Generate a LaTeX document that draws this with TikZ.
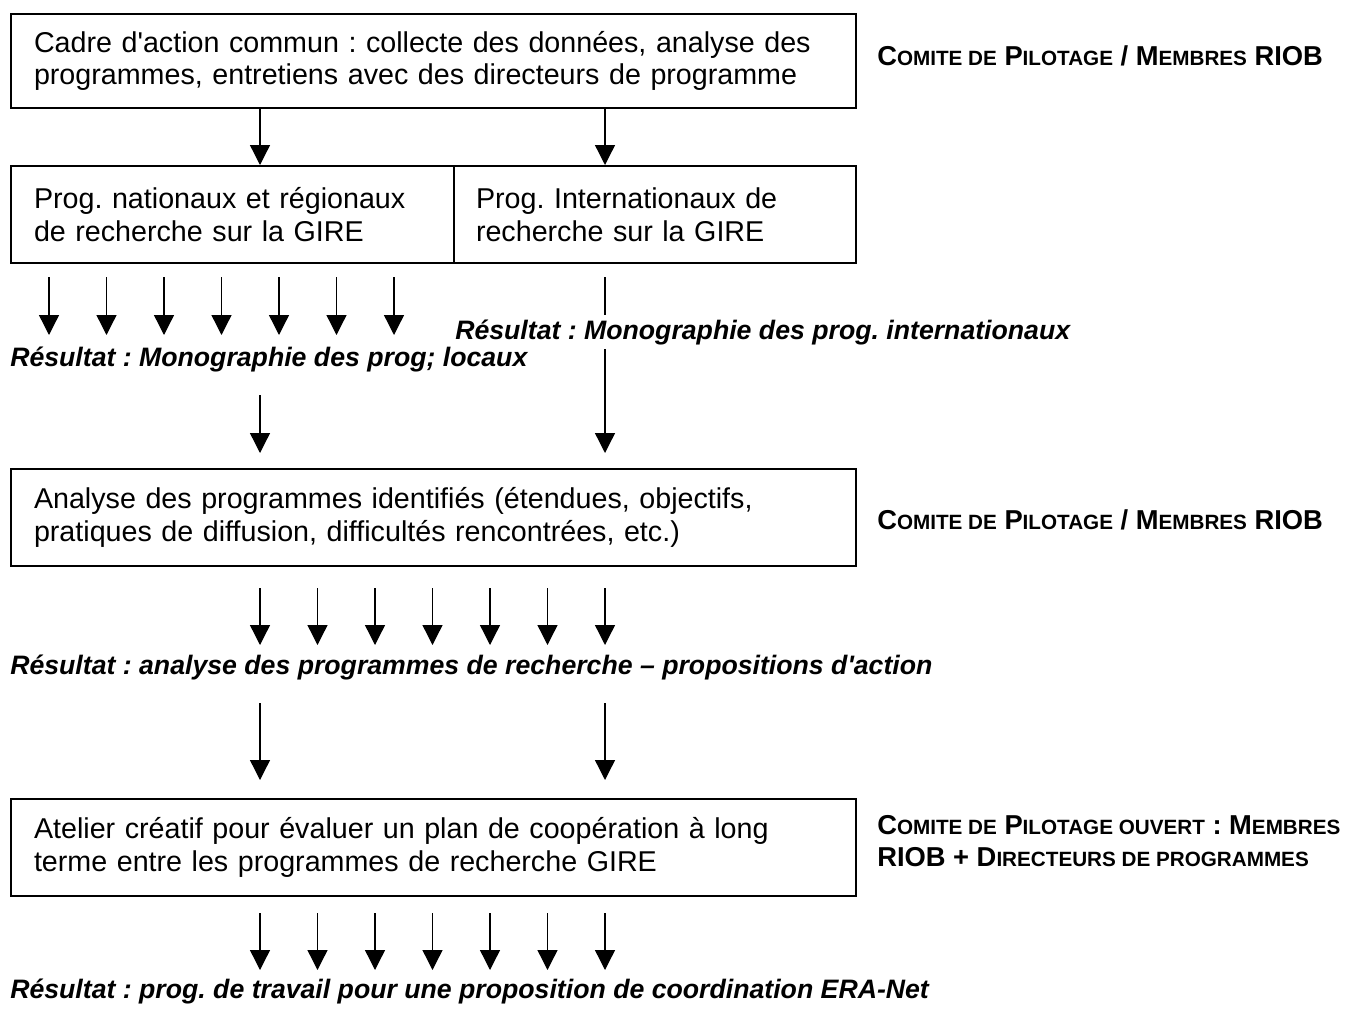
\documentclass[tikz,border=0pt]{standalone}
\usepackage{fontspec}
\setmainfont{Liberation Sans}[Ligatures=TeXOff]
\usetikzlibrary{arrows.meta}
\newcommand{\mainsz}{\fontsize{21.5}{24.5}\selectfont\frenchspacing\hyphenpenalty=10000\relax}
\newcommand{\scx}[1]{{\fontsize{15.5}{15.5}\selectfont #1}}
\begin{document}
\begin{tikzpicture}[x=0.75pt,y=-0.75pt,
  box/.style={draw, line width=1.5pt, anchor=north west, align=left, inner ysep=0pt, font=\mainsz},
  arr/.style={line width=1pt, -{Triangle[length=15pt,width=15pt]}},
  res/.style={anchor=base west, inner sep=0pt, font=\fontsize{20}{24}\selectfont\frenchspacing\bfseries\itshape},
  lab/.style={anchor=base west, inner sep=0pt, align=left, font=\fontsize{20.5}{24}\selectfont\frenchspacing\bfseries}]
\useasboundingbox[fill=white] (0,0) rectangle (1363,1010);

% boxes
\node[box, inner xsep=17.25pt, text width=599.25pt, minimum height=70.5pt] (b1) at (10,13)
  {Cadre d'action commun : collecte des données, analyse des programmes, entretiens avec des directeurs de programme};
\node[box, inner xsep=17.25pt, text width=297.75pt, minimum height=72.75pt] (b2a) at (10,165)
  {Prog. nationaux et régionaux de recherche sur la GIRE};
\node[box, inner xsep=16.5pt, text width=268.5pt, minimum height=72.75pt] (b2b) at (453,165)
  {Prog. Internationaux de recherche sur la GIRE};
\node[box, inner xsep=17.25pt, text width=599.25pt, minimum height=72.75pt] (b3) at (10,468)
  {Analyse des programmes identifiés (étendues, objectifs, pratiques de diffusion, difficultés rencontrées, etc.)};
\node[box, inner xsep=17.25pt, text width=599.25pt, minimum height=72.75pt] (b4) at (10,798)
  {Atelier créatif pour évaluer un plan de coopération à long terme entre les programmes de recherche GIRE};

% side labels
\node[lab] (l1) at (877,65) {C\scx{OMITE DE} P\scx{ILOTAGE} / M\scx{EMBRES} RIOB};
\node[lab] (l3) at (877,529) {C\scx{OMITE DE} P\scx{ILOTAGE} / M\scx{EMBRES} RIOB};
\node[lab] (l4) at (877,866) {C\scx{OMITE DE} P\scx{ILOTAGE OUVERT} : M\scx{EMBRES}\\RIOB + D\scx{IRECTEURS DE PROGRAMMES}};

% result texts
\node[res] (r1) at (10,366) {Résultat : Monographie des prog; locaux};
\node[res] (r3) at (10,674) {Résultat : analyse des programmes de recherche – propositions d'action};
\node[res] (r4) at (10,998) {Résultat : prog. de travail pour une proposition de coordination ERA-Net};

% column coordinates
\coordinate (cL) at (260,0);
\coordinate (cR) at (605,0);

% box1 -> box2
\draw[arr] (b1.south -| cL) -- (b2a.north -| cL);
\draw[arr] (b1.south -| cR) -- (b2b.north -| cR);

% row of arrows under box 2
\foreach \i in {0,...,6} {
  \coordinate (p1s\i) at (49+57.5*\i,277);
  \coordinate (p1e\i) at (49+57.5*\i,335);
  \draw[arr] (p1s\i) -- (p1e\i);
}
\coordinate (qLs) at (260,395);
\coordinate (qLe) at (260,453);
\coordinate (qRs) at (605,277);
\coordinate (qRe) at (605,453);
\draw[arr] (qLs) -- (qLe);
\draw[arr] (qRs) -- (qRe);
\node[res, fill=white, inner xsep=0pt, inner ysep=3pt] (r2) at (455,339) {Résultat : Monographie des prog. internationaux};

% row under box 3
\foreach \i in {0,...,6} {
  \coordinate (p2s\i) at (260+57.5*\i,588);
  \coordinate (p2e\i) at (260+57.5*\i,645);
  \draw[arr] (p2s\i) -- (p2e\i);
}
\coordinate (sLs) at (260,703);
\coordinate (sLe) at (260,780);
\coordinate (sRs) at (605,703);
\coordinate (sRe) at (605,780);
\draw[arr] (sLs) -- (sLe);
\draw[arr] (sRs) -- (sRe);

% row under box 4
\foreach \i in {0,...,6} {
  \coordinate (p3s\i) at (260+57.5*\i,913);
  \coordinate (p3e\i) at (260+57.5*\i,970);
  \draw[arr] (p3s\i) -- (p3e\i);
}
\end{tikzpicture}
\end{document}
